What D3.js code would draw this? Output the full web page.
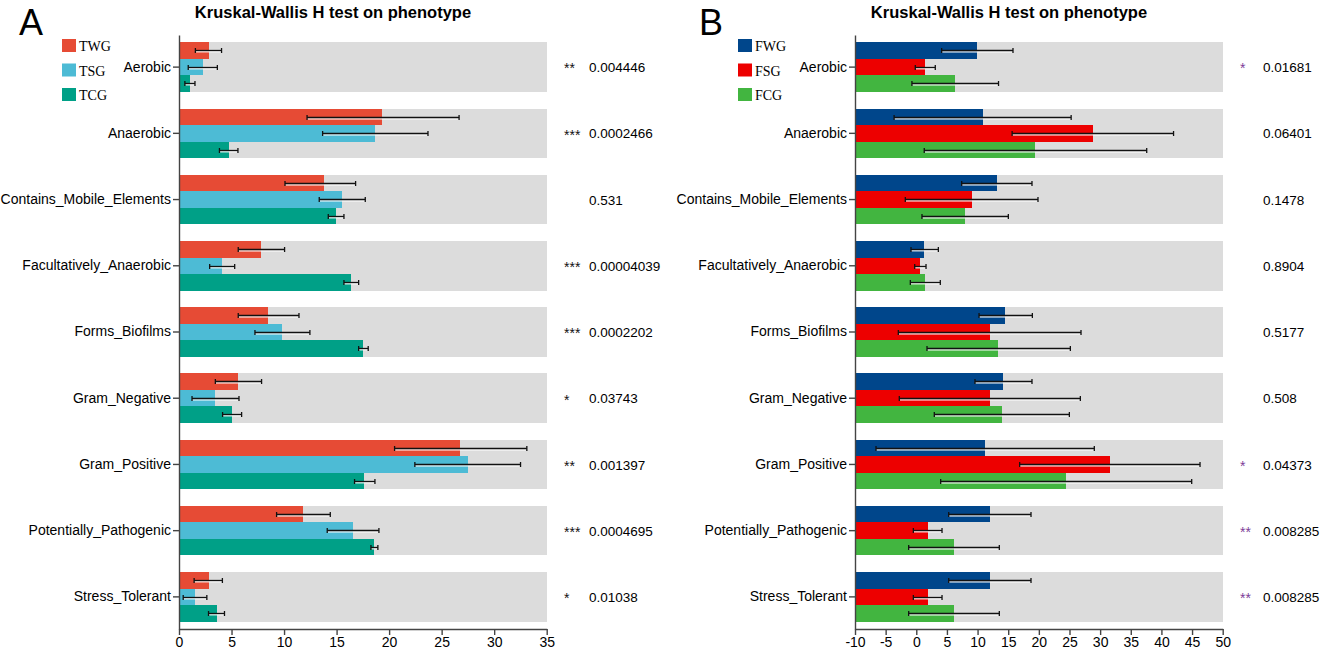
<!DOCTYPE html>
<html>
<head>
<meta charset="utf-8">
<script src="https://cdn.jsdelivr.net/npm/d3@7"></script>
<style>
    body { margin: 0; background: #fff; }
    svg text { font-family: "Liberation Sans", Arial, sans-serif; }
    .axis path, .axis line { stroke: #444; stroke-width: 1.4; }
    .axis text { font-size: 14px; fill: #000; }
    .legend text { font-family: "Liberation Serif", "Times New Roman", serif; font-size: 14px; }
    .bars rect, .rows rect { shape-rendering: crispEdges; }
</style>
</head>
<body>
<svg id="chart" width="1325" height="651"></svg>
<script>
/**
 * Data.
 */
const phenotypes = ['Aerobic', 'Anaerobic', 'Contains_Mobile_Elements', 'Facultatively_Anaerobic',
    'Forms_Biofilms', 'Gram_Negative', 'Gram_Positive', 'Potentially_Pathogenic', 'Stress_Tolerant'];

// Panel A
const groupsA = ['TWG', 'TSG', 'TCG'];
const twgMean = [2.81, 19.37, 13.83, 7.83, 8.50, 5.64, 26.77, 11.83, 2.81];
const twgLow = [1.56, 12.19, 10.09, 5.64, 5.64, 3.46, 20.52, 9.29, 1.44];
const twgHigh = [4.05, 26.66, 16.81, 10.05, 11.42, 7.86, 33.11, 14.40, 4.13];
const tsgMean = [2.25, 18.64, 15.51, 4.09, 9.83, 3.46, 27.47, 16.56, 1.52];
const tsgLow = [0.88, 13.67, 13.35, 2.92, 7.23, 1.24, 22.45, 14.11, 0.40];
const tsgHigh = [3.65, 23.70, 17.73, 5.30, 12.46, 5.71, 32.51, 19.03, 2.65];
const tcgMean = [1.04, 4.73, 14.94, 16.40, 17.51, 5.07, 17.63, 18.55, 3.57];
const tcgLow = [0.56, 3.85, 14.21, 15.70, 17.10, 4.15, 16.71, 18.27, 2.81];
const tcgHigh = [1.52, 5.61, 15.70, 17.10, 18.01, 5.96, 18.65, 18.93, 4.33];
const starsA = ['**', '***', '', '***', '***', '*', '**', '***', '*'];
const pValuesA = ['0.004446', '0.0002466', '0.531', '0.00004039', '0.0002202', '0.03743', '0.001397', '0.0004695', '0.01038'];
const ticksA = [0, 5, 10, 15, 20, 25, 30, 35];

// Panel B
const groupsB = ['FWG', 'FSG', 'FCG'];
const fwgMean = [9.89, 10.93, 13.12, 1.31, 14.53, 14.20, 11.21, 11.98, 11.98];
const fwgLow = [4.14, -3.62, 7.41, -0.86, 10.24, 9.58, -6.57, 5.29, 5.29];
const fwgHigh = [15.78, 25.27, 18.88, 3.60, 18.94, 18.88, 29.05, 18.72, 18.72];
const fsgMean = [1.43, 28.80, 9.04, 0.66, 12.03, 11.98, 31.61, 1.86, 1.86];
const fsgLow = [-0.16, 15.64, -1.79, -0.26, -2.93, -2.77, 16.87, -0.48, -0.48];
const fsgHigh = [3.10, 41.98, 19.86, 1.59, 26.88, 26.77, 46.30, 4.20, 4.20];
const fcgMean = [6.35, 19.38, 7.95, 1.42, 13.34, 13.99, 24.38, 6.16, 6.16];
const fcgLow = [-0.71, 1.30, 0.93, -0.97, 1.75, 2.94, 3.98, -1.24, -1.24];
const fcgHigh = [13.42, 37.60, 15.02, 3.92, 25.14, 24.98, 44.94, 13.55, 13.55];
const starsB = ['*', '', '', '', '', '', '*', '**', '**'];
const pValuesB = ['0.01681', '0.06401', '0.1478', '0.8904', '0.5177', '0.508', '0.04373', '0.008285', '0.008285'];
const ticksB = [-10, -5, 0, 5, 10, 15, 20, 25, 30, 35, 40, 45, 50];

/**
 * Visual configs.
 */
const svg = d3.select('#chart');
const plotTop = 35, plotBottom = 629;
const title = 'Kruskal-Wallis H test on phenotype';

const y = d3.scaleBand()
    .domain(phenotypes)
    .range([plotTop, plotBottom])
    .paddingInner(0.25)
    .paddingOuter(0.11);

function drawPanel(cfg) {
    const g = svg.append('g').attr('class', 'panel');

    const x = d3.scaleLinear().domain(cfg.domain).range(cfg.range);
    const sub = d3.scaleBand().domain(cfg.groups).range([0, y.bandwidth()]);
    const color = d3.scaleOrdinal().domain(cfg.groups).range(cfg.colors);

    // Panel letter and title
    g.append('text')
        .attr('x', cfg.letterX).attr('y', 35)
        .style('font-size', '36px')
        .text(cfg.letter);
    g.append('text')
        .attr('x', cfg.titleX).attr('y', 18)
        .attr('text-anchor', 'middle')
        .style('font-size', '16.5px')
        .style('font-weight', 'bold')
        .text(title);

    // Grey row backgrounds
    g.append('g').attr('class', 'rows').selectAll('rect').data(phenotypes).join('rect')
        .attr('x', x(cfg.domain[0]))
        .attr('y', d => y(d))
        .attr('width', x(cfg.domain[1]) - x(cfg.domain[0]))
        .attr('height', y.bandwidth())
        .attr('fill', '#dcdcdc');

    // Bars
    const cells = [];
    phenotypes.forEach((p, i) => {
        cfg.groups.forEach((grp, j) => {
            cells.push({
                phenotype: p,
                group: grp,
                mean: cfg.means[j][i],
                low: cfg.lows[j][i],
                high: cfg.highs[j][i]
            });
        });
    });
    const top = d => Math.round(y(d.phenotype) + sub(d.group));
    const cy = d => top(d) + 8.5;

    g.append('g').attr('class', 'bars').selectAll('rect').data(cells).join('rect')
        .attr('x', x(cfg.domain[0]))
        .attr('y', top)
        .attr('width', d => x(d.mean) - x(cfg.domain[0]))
        .attr('height', d => Math.round(y(d.phenotype) + sub(d.group) + sub.bandwidth()) - top(d))
        .attr('fill', d => color(d.group));

    // Error bars: white halo under a black line
    const err = g.append('g').attr('class', 'errors');
    err.selectAll('.halo').data(cells).join('line').attr('class', 'halo')
        .attr('x1', d => x(d.low)).attr('x2', d => x(d.high))
        .attr('y1', d => cy(d) + 1.3).attr('y2', d => cy(d) + 1.3)
        .attr('stroke', '#fff').attr('stroke-width', 1.2);
    err.selectAll('.whisker').data(cells).join('line').attr('class', 'whisker')
        .attr('x1', d => x(d.low)).attr('x2', d => x(d.high))
        .attr('y1', cy).attr('y2', cy)
        .attr('stroke', '#111').attr('stroke-width', 1.3);
    err.selectAll('.cap').data(cells.flatMap(d => [d.low, d.high].map(v => ({ v: v, y: cy(d) }))))
        .join('line').attr('class', 'cap')
        .attr('x1', d => x(d.v)).attr('x2', d => x(d.v))
        .attr('y1', d => d.y - 2.5).attr('y2', d => d.y + 2.5)
        .attr('stroke', '#111').attr('stroke-width', 1.3);

    // Axes
    g.append('g').attr('class', 'axis')
        .attr('transform', 'translate(0,' + plotBottom + ')')
        .call(d3.axisBottom(x).tickValues(cfg.ticks).tickFormat(d => String(d))
            .tickSize(6).tickSizeOuter(0).tickPadding(2));
    g.append('g').attr('class', 'axis')
        .attr('transform', 'translate(' + x(cfg.domain[0]) + ',0)')
        .call(d3.axisLeft(y).tickSize(6).tickSizeOuter(0).tickPadding(2));

    // Significance and p-values
    const sig = g.append('g').selectAll('g').data(phenotypes).join('g')
        .attr('transform', d => 'translate(0,' + (y(d) + y.bandwidth() / 2) + ')');
    sig.append('text')
        .attr('x', cfg.starX).attr('dy', '0.45em')
        .style('font-size', '14px')
        .attr('fill', cfg.starColor)
        .text((d, i) => cfg.stars[i]);
    sig.append('text')
        .attr('x', cfg.pX).attr('dy', '0.38em')
        .style('font-size', '13.5px')
        .text((d, i) => cfg.pValues[i]);

    // Legend
    const legend = g.append('g').attr('class', 'legend')
        .selectAll('g').data(cfg.groups).join('g')
        .attr('transform', (d, i) => 'translate(' + cfg.legendX + ',' + (39 + i * 24.5) + ')');
    legend.append('rect')
        .attr('width', 14).attr('height', 13)
        .attr('fill', color);
    legend.append('text')
        .attr('x', 17).attr('y', 12)
        .text(d => d);
}

drawPanel({
    letter: 'A', letterX: 19, titleX: 333,
    groups: groupsA,
    colors: ['#E64B35', '#4DBBD5', '#00A087'],
    means: [twgMean, tsgMean, tcgMean],
    lows: [twgLow, tsgLow, tcgLow],
    highs: [twgHigh, tsgHigh, tcgHigh],
    domain: [0, 35], range: [179, 546.7], ticks: ticksA,
    stars: starsA, pValues: pValuesA, starColor: '#111',
    starX: 564, pX: 589,
    legendX: 62
});

drawPanel({
    letter: 'B', letterX: 699, titleX: 1009,
    groups: groupsB,
    colors: ['#00468B', '#ED0000', '#42B540'],
    means: [fwgMean, fsgMean, fcgMean],
    lows: [fwgLow, fsgLow, fcgLow],
    highs: [fwgHigh, fsgHigh, fcgHigh],
    domain: [-10, 50], range: [855, 1222.7], ticks: ticksB,
    stars: starsB, pValues: pValuesB, starColor: '#7d3c98',
    starX: 1240, pX: 1263,
    legendX: 738
});
</script>
</body>
</html>
